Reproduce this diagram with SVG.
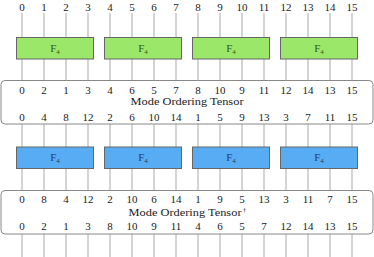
<svg xmlns="http://www.w3.org/2000/svg" width="374" height="257" viewBox="0 0 374 257">
<style>
.t{font-family:"Liberation Serif","Times New Roman",serif;font-size:11px;fill:#222;text-anchor:middle}
.lab{font-size:11px}
.w{stroke:#aaa;stroke-width:1;fill:none}
.g{fill:#9be76a;stroke:#666;stroke-width:1}
.b{fill:#58acf4;stroke:#666;stroke-width:1}
.tb{fill:#fff;stroke:#888;stroke-width:1}
.gl{fill:#2f5a1c}
.bl{fill:#1d3f66}
.sub{font-size:7px}
</style>
<g id="connectors">
<path class="w" d="M22,13V257M44,13V257M66,13V257M88,13V257M110,13V257M132,13V257M154,13V257M176,13V257M198,13V257M220,13V257M242,13V257M264,13V257M286,13V257M308,13V257M330,13V257M352,13V257"/>
</g>
<g id="input-labels">
<text class="t" y="10.5"><tspan x="22">0</tspan><tspan x="44">1</tspan><tspan x="66">2</tspan><tspan x="88">3</tspan><tspan x="110">4</tspan><tspan x="132">5</tspan><tspan x="154">6</tspan><tspan x="176">7</tspan><tspan x="198">8</tspan><tspan x="220">9</tspan><tspan x="242">10</tspan><tspan x="264">11</tspan><tspan x="286">12</tspan><tspan x="308">13</tspan><tspan x="330">14</tspan><tspan x="352">15</tspan></text>
</g>
<g id="f4-green-1"><rect class="g" x="16.5" y="37.5" width="77" height="21.5"/><text class="t gl" x="55" y="51.7">F<tspan class="sub" dy="2">4</tspan></text></g>
<g id="f4-green-2"><rect class="g" x="104.5" y="37.5" width="77" height="21.5"/><text class="t gl" x="143" y="51.7">F<tspan class="sub" dy="2">4</tspan></text></g>
<g id="f4-green-3"><rect class="g" x="192.5" y="37.5" width="77" height="21.5"/><text class="t gl" x="231" y="51.7">F<tspan class="sub" dy="2">4</tspan></text></g>
<g id="f4-green-4"><rect class="g" x="280.5" y="37.5" width="77" height="21.5"/><text class="t gl" x="319" y="51.7">F<tspan class="sub" dy="2">4</tspan></text></g>
<g id="mode-ordering-tensor">
<rect class="tb" x="1" y="80.5" width="372" height="43.5" rx="4"/>
<text class="t" y="93.5"><tspan x="22">0</tspan><tspan x="44">2</tspan><tspan x="66">1</tspan><tspan x="88">3</tspan><tspan x="110">4</tspan><tspan x="132">6</tspan><tspan x="154">5</tspan><tspan x="176">7</tspan><tspan x="198">8</tspan><tspan x="220">10</tspan><tspan x="242">9</tspan><tspan x="264">11</tspan><tspan x="286">12</tspan><tspan x="308">14</tspan><tspan x="330">13</tspan><tspan x="352">15</tspan></text>
<text class="t lab" x="187" y="105.3" textLength="113" lengthAdjust="spacingAndGlyphs">Mode Ordering Tensor</text>
<text class="t" y="121"><tspan x="22">0</tspan><tspan x="44">4</tspan><tspan x="66">8</tspan><tspan x="88">12</tspan><tspan x="110">2</tspan><tspan x="132">6</tspan><tspan x="154">10</tspan><tspan x="176">14</tspan><tspan x="198">1</tspan><tspan x="220">5</tspan><tspan x="242">9</tspan><tspan x="264">13</tspan><tspan x="286">3</tspan><tspan x="308">7</tspan><tspan x="330">11</tspan><tspan x="352">15</tspan></text>
</g>
<g id="f4-blue-1"><rect class="b" x="16.5" y="147" width="77" height="21.5"/><text class="t bl" x="55" y="161.2">F<tspan class="sub" dy="2">4</tspan></text></g>
<g id="f4-blue-2"><rect class="b" x="104.5" y="147" width="77" height="21.5"/><text class="t bl" x="143" y="161.2">F<tspan class="sub" dy="2">4</tspan></text></g>
<g id="f4-blue-3"><rect class="b" x="192.5" y="147" width="77" height="21.5"/><text class="t bl" x="231" y="161.2">F<tspan class="sub" dy="2">4</tspan></text></g>
<g id="f4-blue-4"><rect class="b" x="280.5" y="147" width="77" height="21.5"/><text class="t bl" x="319" y="161.2">F<tspan class="sub" dy="2">4</tspan></text></g>
<g id="mode-ordering-tensor-dagger">
<rect class="tb" x="1" y="190.5" width="372" height="43.5" rx="4"/>
<text class="t" y="203.2"><tspan x="22">0</tspan><tspan x="44">8</tspan><tspan x="66">4</tspan><tspan x="88">12</tspan><tspan x="110">2</tspan><tspan x="132">10</tspan><tspan x="154">6</tspan><tspan x="176">14</tspan><tspan x="198">1</tspan><tspan x="220">9</tspan><tspan x="242">5</tspan><tspan x="264">13</tspan><tspan x="286">3</tspan><tspan x="308">11</tspan><tspan x="330">7</tspan><tspan x="352">15</tspan></text>
<text class="t lab" x="185" y="216.3" textLength="113" lengthAdjust="spacingAndGlyphs">Mode Ordering Tensor</text>
<text class="t" x="244.5" y="211.5" style="font-size:7px">†</text>
<text class="t" y="230"><tspan x="22">0</tspan><tspan x="44">2</tspan><tspan x="66">1</tspan><tspan x="88">3</tspan><tspan x="110">8</tspan><tspan x="132">10</tspan><tspan x="154">9</tspan><tspan x="176">11</tspan><tspan x="198">4</tspan><tspan x="220">6</tspan><tspan x="242">5</tspan><tspan x="264">7</tspan><tspan x="286">12</tspan><tspan x="308">14</tspan><tspan x="330">13</tspan><tspan x="352">15</tspan></text>
</g>
</svg>
